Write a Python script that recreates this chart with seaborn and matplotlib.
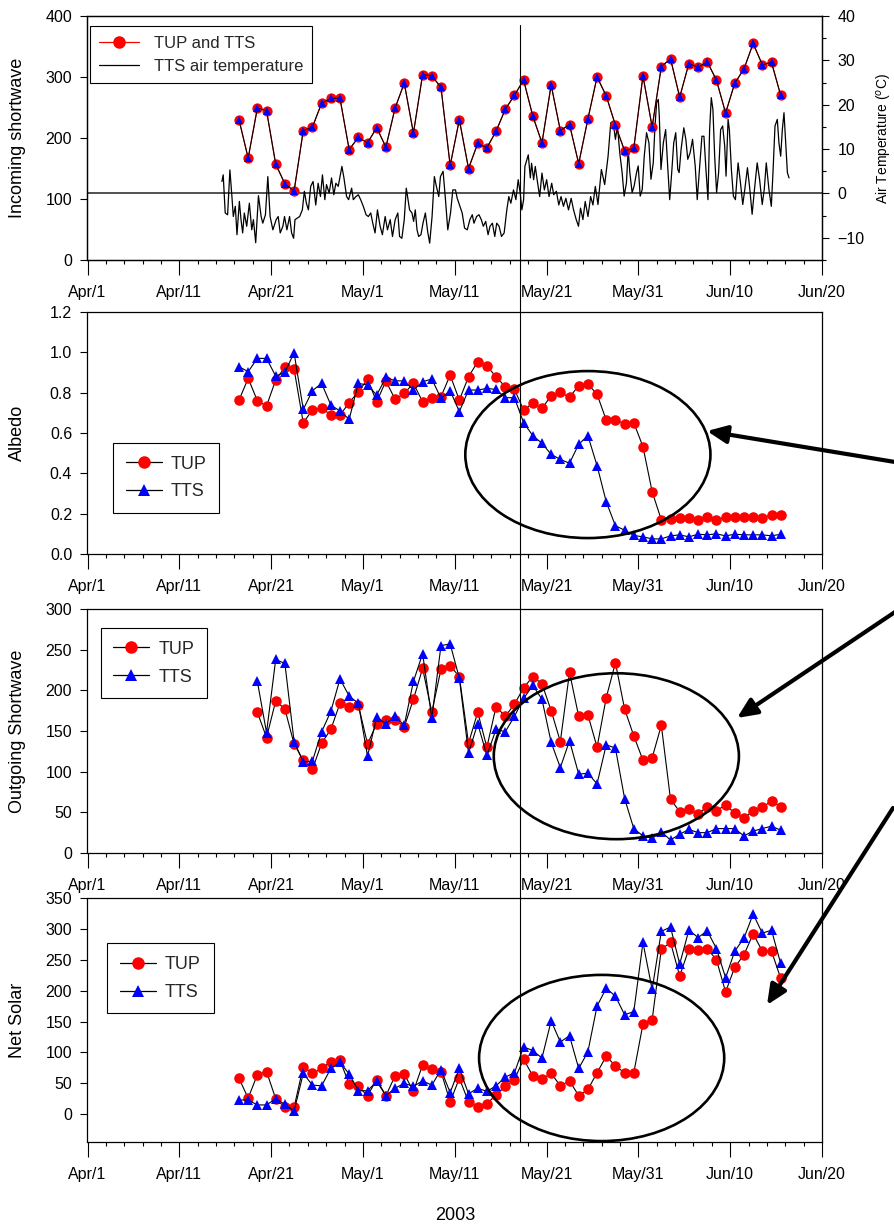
import numpy as np
import pandas as pd
import matplotlib
matplotlib.use('Agg')
import matplotlib.pyplot as plt
import matplotlib.dates as mdates
from matplotlib.patches import Ellipse, FancyArrowPatch
from matplotlib.lines import Line2D
from matplotlib.ticker import FixedLocator, FuncFormatter, MultipleLocator
import seaborn as sns

sns.set_theme(style='ticks')
plt.rcParams['font.family'] = ['Liberation Sans', 'DejaVu Sans']

# ---------------- data ----------------
axis_start = '2003-04-01'
axis_end = '2003-06-20'
start_A = '2003-04-17 12:00'   # incoming, albedo, net solar
start_B = '2003-04-19 12:00'   # outgoing shortwave
marker_line_date = '2003-05-18 03:00'

incoming = [230, 167, 249, 245, 157, 125, 113, 212, 218, 257, 265, 265, 181, 201, 192, 217,
            185, 249, 290, 208, 304, 302, 283, 155, 230, 150, 191, 184, 211, 247, 270, 295,
            236, 192, 287, 212, 222, 158, 231, 300, 269, 221, 179, 183, 302, 218, 317, 330,
            267, 322, 316, 325, 295, 241, 290, 313, 355, 320, 324, 270]

albedo_tup = [0.763, 0.871, 0.760, 0.734, 0.863, 0.926, 0.917, 0.651, 0.714, 0.725, 0.689, 0.689,
              0.750, 0.805, 0.866, 0.755, 0.858, 0.767, 0.797, 0.846, 0.755, 0.772, 0.780, 0.887,
              0.763, 0.879, 0.953, 0.932, 0.879, 0.829, 0.816, 0.714,
              0.747, 0.722, 0.785, 0.802, 0.777, 0.835, 0.843, 0.792, 0.664, 0.664, 0.646, 0.651,
              0.532, 0.309, 0.169, 0.174, 0.177, 0.177, 0.169, 0.185, 0.169, 0.182, 0.182, 0.182,
              0.182, 0.180, 0.193, 0.193]
albedo_tts = [0.929, 0.904, 0.970, 0.970, 0.882, 0.901, 0.998, 0.717, 0.810, 0.846, 0.739, 0.709,
              0.668, 0.846, 0.838, 0.788, 0.876, 0.859, 0.858, 0.813, 0.854, 0.868, 0.772, 0.810,
              0.706, 0.813, 0.813, 0.821, 0.816, 0.775, 0.775, 0.651,
              0.587, 0.549, 0.494, 0.469, 0.450, 0.544, 0.587, 0.438, 0.259, 0.140, 0.118, 0.092,
              0.085, 0.075, 0.075, 0.090, 0.095, 0.085, 0.098, 0.095, 0.100, 0.090, 0.098, 0.095,
              0.095, 0.095, 0.090, 0.098]

outgoing_tup = [173, 142, 187, 177, 134, 114, 103, 135, 152, 184, 180, 182, 134, 159, 164, 164,
                155, 189, 227, 173, 226, 230, 217, 135, 173, 130, 180, 168, 183, 203,
                217, 208, 175, 137, 222, 168, 170, 130, 191, 234, 177, 144, 114, 117, 157, 66,
                51, 54, 48, 57, 52, 59, 49, 43, 52, 56, 64, 57]
outgoing_tts = [211, 148, 238, 233, 137, 112, 113, 149, 174, 214, 193, 184, 119, 167, 159, 168,
                157, 211, 245, 166, 255, 257, 215, 123, 159, 120, 152, 149, 168, 190,
                206, 189, 136, 105, 138, 97, 98, 85, 133, 129, 67, 30, 21, 18, 26, 16,
                23, 29, 25, 25, 30, 30, 30, 21, 27, 30, 33, 28]

net_tup = [58, 26, 64, 69, 25, 11, 11, 77, 66, 74, 85, 87, 49, 45, 30, 56,
           30, 62, 65, 37, 80, 73, 69, 20, 58, 20, 12, 17, 31, 45, 56, 89,
           62, 57, 66, 46, 54, 30, 40, 67, 94, 78, 67, 67, 146, 153, 267, 278,
           224, 267, 266, 268, 250, 198, 238, 258, 292, 264, 264, 220]
net_tts = [23, 23, 15, 15, 25, 16, 5, 66, 47, 46, 74, 84, 65, 38, 38, 53,
           30, 42, 50, 45, 54, 47, 72, 35, 74, 33, 42, 37, 46, 60, 67, 109,
           103, 91, 151, 117, 127, 74, 101, 175, 204, 191, 161, 166, 278, 202, 296, 303,
           243, 298, 286, 297, 268, 221, 264, 285, 324, 293, 298, 244]

# TTS air temperature: (days since origin, deg C)
temp_origin = '2003-04-01 04:48'
temp_day = [14.44, 14.58, 14.80, 15.06, 15.31, 15.53, 15.68, 15.90, 16.08, 16.34, 16.52, 16.70,
            16.88, 17.14, 17.43, 17.69, 17.87, 18.12, 18.42, 18.71, 18.89, 19.18, 19.44, 19.69,
            19.99, 20.35, 20.57, 20.79, 21.08, 21.26, 21.52, 21.81, 22.03, 22.25, 22.40, 22.62,
            22.91, 23.20, 23.42, 23.64, 23.86, 24.11, 24.37, 24.66, 24.92, 25.17, 25.39, 25.65,
            25.83, 26.12, 26.38, 26.63, 26.85, 27.11, 27.51, 27.73, 28.02, 28.24, 28.57, 28.75,
            29.04, 29.30, 29.55, 29.84, 30.14, 30.39, 30.65, 30.87, 31.12, 31.38, 31.67, 31.92,
            32.22, 32.47, 32.77, 33.02, 33.31, 33.60, 33.79, 34.04, 34.30, 34.52,
            34.88, 35.14, 35.32, 35.50, 35.69, 35.87, 36.12, 36.34, 36.60, 36.85, 37.07, 37.33,
            37.58, 37.80, 38.06, 38.24, 38.53, 38.79, 39.04, 39.34, 39.59, 39.88, 40.07, 40.36,
            40.61, 40.87, 41.16, 41.45, 41.71, 41.89, 42.18, 42.44, 42.69, 42.91, 43.17, 43.43,
            43.64, 43.90, 44.16, 44.37, 44.63, 44.89, 45.18, 45.47, 45.69, 45.91, 46.20, 46.46,
            46.71, 46.93, 47.11, 47.30, 47.44, 47.66, 47.81, 48.03, 48.17, 48.39, 48.57, 48.83,
            49.05, 49.30, 49.56, 49.81, 50.07, 50.36, 50.58, 50.87, 51.13, 51.38, 51.64, 51.90,
            52.19, 52.48, 52.74, 53.03, 53.28, 53.50, 53.76, 54.01, 54.31, 54.60, 54.85, 55.11,
            55.40,
            55.77, 56.13, 56.50, 56.79, 57.04, 57.30, 57.52, 57.77, 58.03, 58.25, 58.50, 58.69,
            58.87, 59.12, 59.34, 59.60, 59.78, 60.00, 60.22, 60.44, 60.69, 60.95, 61.17, 61.42,
            61.61, 61.79, 61.97, 62.08, 62.26, 62.52, 62.77, 62.99, 63.21, 63.43, 63.65, 63.87,
            64.09, 64.24, 64.45, 64.75, 64.97, 65.18, 65.44, 65.70, 65.99, 66.21, 66.43, 66.72,
            66.94, 67.16, 67.38, 67.56, 67.74, 67.92, 68.11, 68.32, 68.54, 68.76, 68.98, 69.20,
            69.35, 69.57, 69.71, 69.93, 70.15, 70.37, 70.66, 70.92, 71.17, 71.39, 71.68, 71.94,
            72.19, 72.41, 72.74, 73.00, 73.29, 73.51, 73.73, 74.02, 74.28, 74.46, 74.68, 74.93,
            75.11, 75.30, 75.48, 75.66, 75.85, 76.03, 76.21]
temp_val = [2.7, 4.2, -4.4, -4.8, 5.3, -0.7, -5.2, -2.9, -9.3, -1.8, -5.9, -8.9,
            -4.4, -7.4, -2.2, -8.2, -5.9, -11.1, -0.5, -5.2, -6.7, -4.8, 3.8, -5.2,
            -8.2, -5.9, -5.2, -8.9, -7.4, -5.2, -8.2, -5.2, -8.9, -10.1, -5.9, -5.6,
            -5.2, -3.7, 0.5, -2.2, -3.7, 1.6, 2.7, -2.6, 2.3, -0.7, 4.2, -1.4,
            2.0, 0.1, 3.5, -0.3, 2.3, 1.6, 6.1, 3.5, -0.7, -1.4, 1.2, -1.4,
            -0.7, -0.3, -1.4, -2.9, -4.8, -5.2, -4.4, -6.7, -8.9, -3.7, -7.4, -9.3,
            -5.2, -8.2, -5.9, -9.7, -5.9, -4.4, -9.7, -10.1, -5.9, 1.2,
            -3.7, -4.4, -6.3, -3.7, -8.2, -9.7, -9.3, -6.7, -4.4, -8.6, -11.2, -5.2,
            3.8, 1.6, -0.7, 3.8, 5.0, -1.4, -8.2, -4.4, 0.8, 0.8, -1.1, -2.9,
            -4.4, -7.8, -8.2, -5.9, -4.8, -6.7, -5.2, -4.8, -5.9, -7.4, -6.3, -9.3,
            -7.4, -6.7, -9.7, -6.7, -7.4, -9.7, -8.9, -3.7, -0.7, -2.2, 0.8, -1.4,
            3.1, 0.1, -3.7, -1.4, 6.1, 7.6, 8.7, 3.5, 6.8, 3.1, 6.1, 2.3,
            -0.7, 4.6, 0.8, 3.1, -0.7, 2.3, -0.3, 0.5, -2.6, -0.7, -2.9, -1.1,
            -3.7, -1.1, -3.7, -5.9, -7.4, -3.3, -5.9, -1.8, -5.2, -0.7, -2.6, 1.6,
            -2.5,
            5.4, 2.0, 8.4, 15.9, 16.3, 12.2, 15.2, 9.2, 4.7, -0.6, 2.4, 9.9,
            4.7, 0.2, 1.7, 4.7, 6.2, -0.6, 0.9, 8.4, 13.7, 11.4, 3.2, 6.9,
            15.2, 20.5, 21.2, 17.4, 5.4, 11.4, 14.4, 6.2, -1.4, 4.7, 11.4, 13.7,
            5.4, 4.7, 9.9, 14.8, 12.2, 7.7, 9.2, 12.2, 6.2, -1.4, 4.7, 12.9,
            12.9, 5.4, -1.4, 14.4, 21.6, 18.9, 8.4, 0.2, 4.7, 14.4, 15.2, 10.7,
            3.9, 16.7, 14.4, 5.4, -0.6, -1.4, 6.9, 2.4, -2.5, 0.9, 5.8, 0.9,
            -4.7, 0.2, 6.9, 3.2, -2.5, 0.9, 6.9, 0.9, -2.9, 4.7, 15.2, 16.7,
            11.4, 8.4, 14.4, 18.2, 11.4, 4.7, 3.5]

# ---------------- figure ----------------
W, H = 895, 1224
fig = plt.figure(figsize=(W / 100, H / 100), dpi=100)
fig.patch.set_facecolor('white')

def fx(px):
    return px / W

def fy(py):
    return 1 - py / H

left, right = 87.5, 822
panels_px = [(16, 260), (312, 554), (609, 853), (898, 1142)]
axes = []
for top, bot in panels_px:
    ax = fig.add_axes([fx(left), fy(bot), fx(right) - fx(left), (bot - top) / H])
    ax.set_facecolor('white')
    axes.append(ax)
ax1, ax2, ax3, ax4 = axes

dates_A = pd.date_range(start_A, periods=len(incoming), freq='D')
dates_B = pd.date_range(start_B, periods=len(outgoing_tup), freq='D')
temp_times = pd.Timestamp(temp_origin) + pd.to_timedelta(temp_day, unit='D')

base = pd.Timestamp(axis_start)
major_dates = pd.date_range(axis_start, axis_end, freq='10D')
minor_dates = pd.date_range(axis_start, axis_end, freq='2D')

tick_fs = 11.5
label_fs = 13

def style_axis(ax):
    ax.set_xlim(mdates.date2num(pd.Timestamp(axis_start)), mdates.date2num(pd.Timestamp(axis_end)))
    ax.xaxis.set_major_locator(FixedLocator(mdates.date2num(major_dates)))
    ax.xaxis.set_minor_locator(FixedLocator(mdates.date2num(minor_dates)))
    ax.xaxis.set_major_formatter(FuncFormatter(
        lambda v, p: mdates.num2date(v).strftime('%b/') + str(mdates.num2date(v).day)))
    ax.tick_params(axis='x', which='major', direction='out', length=10.8, width=0.8,
                   pad=7, labelsize=tick_fs, colors='black')
    ax.tick_params(axis='x', which='minor', direction='out', length=3.2, width=0.8, colors='black')
    ax.tick_params(axis='y', which='major', direction='out', length=5, width=0.8,
                   pad=6, labelsize=tick_fs, colors='black')
    for s in ax.spines.values():
        s.set_color('black')
        s.set_linewidth(0.9)
    ax.set_xlabel('')
    ax.grid(False)

def paired(ax, dates, tup, tts, ms_c=7.6, ms_t=7.8):
    sns.lineplot(x=dates, y=tup, ax=ax, color='black', lw=0.8, marker='o', markersize=ms_c,
                 markerfacecolor='red', markeredgecolor='red', markeredgewidth=0, zorder=3,
                 legend=False)
    sns.lineplot(x=dates, y=tts, ax=ax, color='black', lw=0.8, marker='^', markersize=ms_t,
                 markerfacecolor='blue', markeredgecolor='blue', markeredgewidth=0, zorder=4,
                 legend=False)

# ---- panel 1 ----
ax1b = ax1.twinx()
sns.lineplot(x=temp_times, y=temp_val, ax=ax1b, color='black', lw=0.9, legend=False)
ax1b.axhline(0, color='#333333', lw=1.2, zorder=1)
ax1b.set_ylim(-15, 40)
ax1b.yaxis.set_major_locator(FixedLocator([-10, 0, 10, 20, 30, 40]))
ax1b.yaxis.set_minor_locator(MultipleLocator(5))
ax1b.tick_params(axis='y', which='major', direction='out', length=5, width=0.8, pad=6,
                 labelsize=tick_fs, colors='black')
ax1b.tick_params(axis='y', which='minor', direction='out', length=3, width=0.8, colors='black')
ax1b.set_ylabel('Air Temperature ($^o$C)', fontsize=10, color='black')
ax1b.yaxis.set_label_coords(1.0725, 0.5)
ax1b.grid(False)
for s in ax1b.spines.values():
    s.set_color('black')
    s.set_linewidth(0.9)

sns.lineplot(x=dates_A, y=incoming, ax=ax1, color='#cc0000', lw=0.9, marker='o', markersize=7.4,
             markerfacecolor='red', markeredgewidth=0, legend=False, zorder=3)
sns.lineplot(x=dates_A, y=incoming, ax=ax1, color='black', lw=0.7, marker='^', markersize=5.2,
             markerfacecolor='blue', markeredgecolor='blue', markeredgewidth=0, legend=False, zorder=4)
ax1.set_zorder(ax1b.get_zorder() + 1)
ax1.patch.set_visible(False)
ax1.set_ylim(0, 400)
ax1.yaxis.set_major_locator(FixedLocator([0, 100, 200, 300, 400]))
style_axis(ax1)
ax1b.set_xlim(ax1.get_xlim())
ax1.set_ylabel('Incoming shortwave', fontsize=label_fs, color='black')
h1 = [Line2D([], [], color='red', lw=0.9, marker='o', ms=8, mfc='red', mec='red'),
      Line2D([], [], color='black', lw=0.9)]
leg1 = ax1.legend(h1, ['TUP and TTS', 'TTS air temperature'], loc='upper left',
                  bbox_to_anchor=(0.003, 0.957), fontsize=12, frameon=True, fancybox=False,
                  edgecolor='black', framealpha=1, handlelength=2.4, borderpad=0.55,
                  labelspacing=0.5, handletextpad=0.9, borderaxespad=0)
leg1.get_frame().set_linewidth(0.8)

# ---- panel 2 ----
paired(ax2, dates_A, albedo_tup, albedo_tts)
ax2.set_ylim(0, 1.2)
ax2.yaxis.set_major_locator(FixedLocator([0, 0.2, 0.4, 0.6, 0.8, 1.0, 1.2]))
ax2.yaxis.set_major_formatter(FuncFormatter(lambda v, p: f'{v:.1f}'))
style_axis(ax2)
ax2.set_ylabel('Albedo', fontsize=label_fs, color='black')

# ---- panel 3 ----
paired(ax3, dates_B, outgoing_tup, outgoing_tts)
ax3.set_ylim(0, 300)
ax3.yaxis.set_major_locator(FixedLocator([0, 50, 100, 150, 200, 250, 300]))
style_axis(ax3)
ax3.set_ylabel('Outgoing Shortwave', fontsize=label_fs, color='black')

# ---- panel 4 ----
paired(ax4, dates_A, net_tup, net_tts)
ax4.set_ylim(-45, 350)
ax4.yaxis.set_major_locator(FixedLocator([0, 50, 100, 150, 200, 250, 300, 350]))
style_axis(ax4)
ax4.set_ylabel('Net Solar', fontsize=label_fs, color='black')

for ax in axes:
    ax.yaxis.set_label_coords(-0.0837, 0.5)

# legends for panels 2-4
def pair_legend(ax, anchor):
    hh = [Line2D([], [], color='black', lw=0.9, marker='o', ms=9, mfc='red', mec='red', mew=0),
          Line2D([], [], color='black', lw=0.9, marker='^', ms=9, mfc='blue', mec='blue', mew=0)]
    lg = ax.legend(hh, ['TUP', 'TTS'], loc='upper left', bbox_to_anchor=anchor, fontsize=13,
                   frameon=True, fancybox=False, edgecolor='black', framealpha=1,
                   handlelength=2.0, borderpad=0.7, labelspacing=0.6, handletextpad=0.5,
                   borderaxespad=0)
    lg.get_frame().set_linewidth(0.8)

pair_legend(ax2, (0.035, 0.459))
pair_legend(ax3, (0.018, 0.922))
pair_legend(ax4, (0.027, 0.814))

# ---- annotations: ellipses ----
def day_num(d):
    return mdates.date2num(base + pd.Timedelta(days=d))

ell_specs = [(ax2, 54.5, 0.493, 26.7, 0.828),
             (ax3, 57.6, 119, 26.7, 204),
             (ax4, 56.0, 91, 26.7, 269)]
for ax, cx, cy, w, h in ell_specs:
    e = Ellipse((day_num(cx), cy), width=w, height=h, fill=False, edgecolor='black',
                lw=1.9, clip_on=False, zorder=6)
    ax.add_patch(e)

# ---- vertical marker line through all panels ----
xv = mdates.date2num(pd.Timestamp(marker_line_date))
x_disp = ax4.transData.transform((xv, 0))[0]
x_fig = x_disp / fig.bbox.width
fig.add_artist(Line2D([x_fig, x_fig], [fy(1142), fy(25)], transform=fig.transFigure,
                      color='black', lw=0.8, zorder=10))

# ---- arrows ----
arrows = [((895, 462), (707, 431)),
          ((895, 612), (737, 718)),
          ((893, 808), (767, 1005))]
for (tx, ty), (hx, hy) in arrows:
    a = FancyArrowPatch((fx(tx), fy(ty)), (fx(hx), fy(hy)), transform=fig.transFigure,
                        arrowstyle='-|>,head_length=0.6,head_width=0.27', mutation_scale=20,
                        color='black', lw=3.0, shrinkA=0, shrinkB=0, zorder=10)
    fig.add_artist(a)

fig.text(fx(455), fy(1215), '2003', ha='center', va='center', fontsize=13, color='black')

fig.savefig('out.png', dpi=100, facecolor='white')
